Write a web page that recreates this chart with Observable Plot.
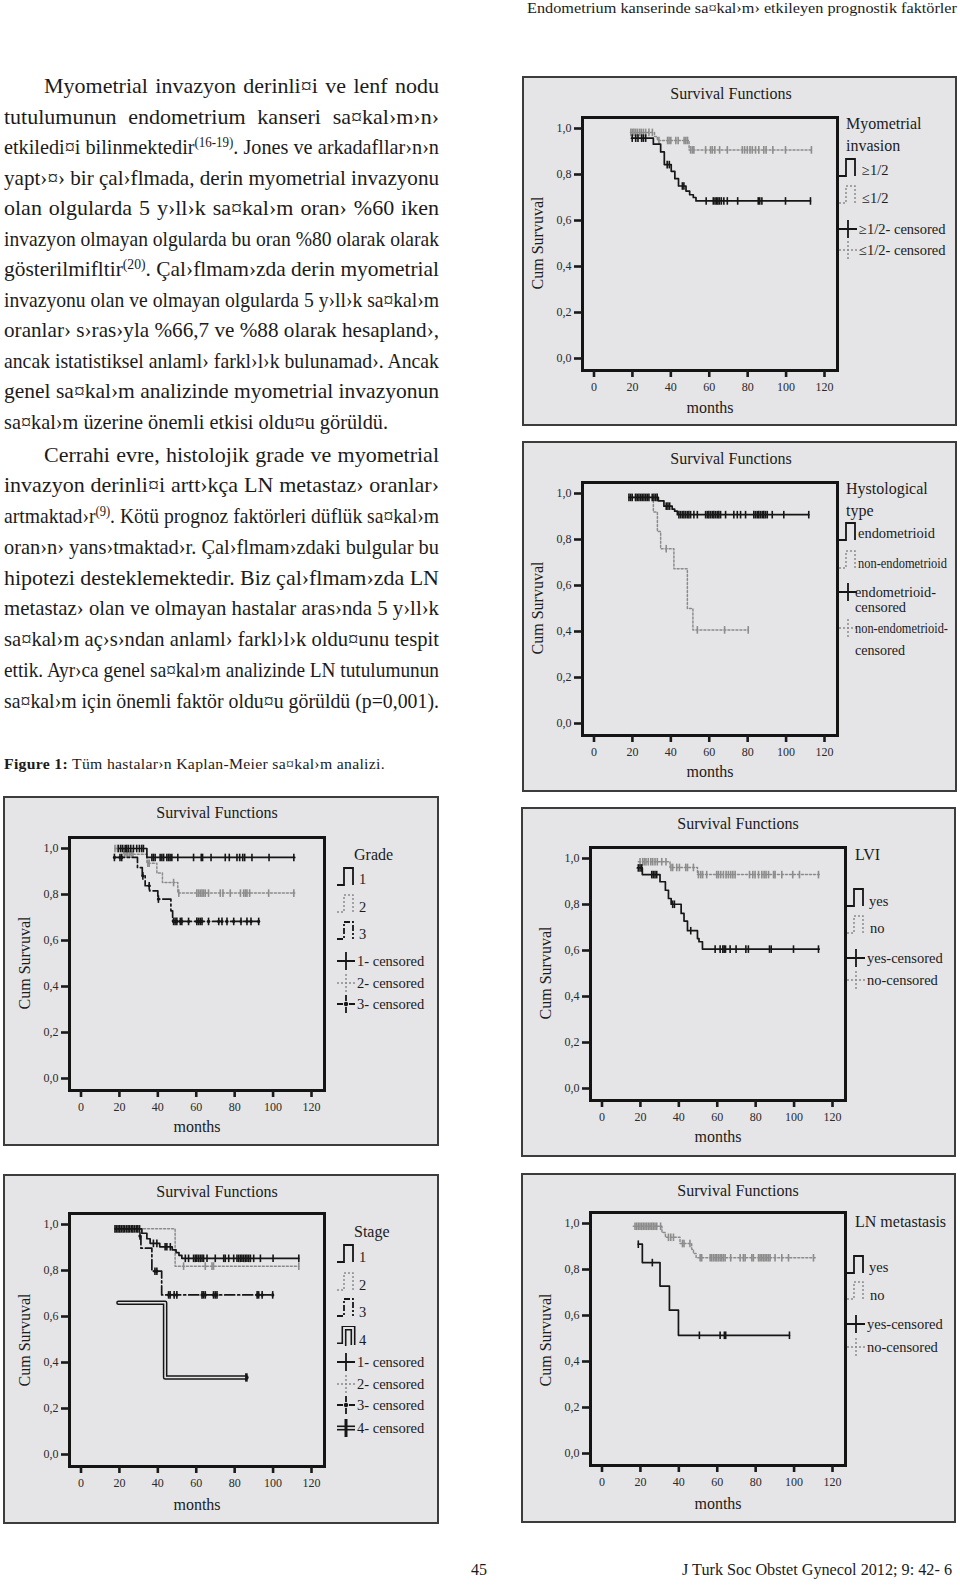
<!DOCTYPE html>
<html><head><meta charset="utf-8">
<script src="https://cdn.jsdelivr.net/npm/d3@7"></script>
<script src="https://cdn.jsdelivr.net/npm/@observablehq/plot@0.6"></script>
<style>
body{margin:0;background:#fff;}
#page{position:relative;width:960px;height:1586px;overflow:hidden;font-family:"Liberation Serif","Times New Roman",serif;color:#1b1b1b;}
.abs{position:absolute;white-space:nowrap;line-height:1;}
.box{position:absolute;box-sizing:border-box;background:#e5e5e7;border:2px solid #3c3c3c;}
sup{font-size:0.64em;vertical-align:baseline;position:relative;top:-0.5em;}
</style></head><body><div id="page"></div>
<script>
// ---------------- data ----------------
const X_TICKS = [0, 20, 40, 60, 80, 100, 120];
const Y_TICKS = [0, 0.2, 0.4, 0.6, 0.8, 1.0];

// Panel 1: Myometrial invasion
const myoDeepT = [19.5, 30.9, 34.7, 36.6, 40.2, 42.1, 44.0, 47.9, 49.8, 51.7, 53.1, 112.7];
const myoDeepS = [0.958, 0.932, 0.898, 0.843, 0.814, 0.782, 0.750, 0.728, 0.712, 0.700, 0.685, 0.685];
const myoDeepC = [19.9, 21.7, 22.9, 24.8, 25.7, 26.9, 38.1, 39.2, 46.0, 46.8, 58.4, 62.1, 63.0, 63.8, 64.5, 65.3, 66.3, 67.6, 69.4, 74.8, 85.5, 86.3, 87.4, 99.7, 112.7];
const myoLowT = [19.0, 31.5, 33.0, 49.5, 113.2];
const myoLowS = [0.983, 0.965, 0.948, 0.907, 0.907];
const myoLowC = [19.2, 20.0, 20.8, 21.7, 22.6, 23.7, 24.6, 25.7, 26.9, 28.6, 30.4, 33.8, 38.3, 39.1, 40.0, 42.6, 43.8, 46.9, 47.8, 48.7, 50.3, 51.2, 52.0, 58.1, 60.7, 61.6, 62.9, 65.4, 69.4, 77.2, 78.4, 79.8, 81.2, 82.4, 84.1, 85.8, 88.4, 89.6, 93.1, 99.7, 113.2];

// Panel 2: Histological type
const endoT = [18.2, 33.5, 36.4, 40.7, 42.0, 43.4, 111.8];
const endoS = [0.983, 0.968, 0.945, 0.932, 0.923, 0.908, 0.908];
const endoC = [18.2, 19.1, 19.9, 21.7, 22.5, 23.4, 24.3, 25.1, 26.0, 26.9, 27.7, 28.6, 30.3, 31.2, 32.1, 32.9, 37.6, 38.5, 39.4, 44.2, 45.1, 46.0, 46.8, 47.7, 48.6, 49.4, 50.3, 52.0, 53.8, 58.1, 59.0, 59.8, 60.7, 61.6, 62.4, 63.3, 64.2, 65.0, 65.9, 68.5, 72.8, 74.6, 76.3, 78.9, 83.2, 84.1, 85.0, 85.8, 86.7, 87.6, 88.4, 89.3, 90.2, 92.8, 98.8, 111.8];
const nonEndoT = [20.0, 30.9, 33.0, 34.7, 41.6, 48.6, 51.5, 80.3];
const nonEndoS = [0.983, 0.920, 0.835, 0.760, 0.673, 0.500, 0.407, 0.407];
const nonEndoC = [21.5, 37.6, 53.8, 68.0, 80.3];

// Panel 3: Grade
const grade1T = [19.5, 34.3, 111.3];
const grade1S = [1.0, 0.961, 0.961];
const grade1C = [19.5, 20.7, 21.7, 23.0, 23.8, 24.7, 25.9, 27.3, 29.0, 30.4, 31.6, 32.5, 36.9, 37.7, 38.6, 41.2, 42.1, 43.0, 44.7, 45.6, 46.4, 47.3, 50.4, 58.6, 62.6, 63.3, 67.7, 75.1, 77.2, 81.2, 82.6, 84.2, 85.2, 89.0, 97.9, 110.8];
const grade2T = [17.7, 22.3, 34.3, 39.5, 42.4, 50.4, 111.3];
const grade2S = [1.0, 0.975, 0.936, 0.893, 0.852, 0.806, 0.806];
const grade2C = [17.7, 19.0, 22.6, 23.5, 24.3, 25.2, 26.1, 27.0, 34.8, 35.5, 48.2, 50.9, 60.3, 61.2, 62.1, 63.0, 63.8, 64.7, 66.4, 72.5, 73.9, 77.7, 83.0, 84.7, 85.6, 86.4, 87.8, 97.7, 110.8];
const grade3T = [17.4, 29.4, 31.9, 33.4, 35.7, 40.0, 46.8, 47.7, 92.5];
const grade3S = [0.961, 0.917, 0.881, 0.838, 0.816, 0.780, 0.729, 0.683, 0.683];
const grade3C = [17.4, 20.3, 21.2, 32.2, 35.5, 40.3, 48.2, 49.0, 49.9, 51.7, 52.5, 56.0, 60.3, 61.2, 62.1, 63.0, 66.4, 71.7, 73.4, 76.0, 79.5, 83.3, 86.4, 88.5, 92.5];

// Panel 4: LVI
const lviYesT = [18.4, 21.0, 30.2, 33.0, 34.6, 36.0, 41.2, 42.7, 44.5, 49.7, 50.5, 52.3, 113.1];
const lviYesS = [0.959, 0.930, 0.899, 0.862, 0.826, 0.801, 0.761, 0.728, 0.686, 0.652, 0.638, 0.606, 0.606];
const lviYesC = [18.9, 19.8, 20.7, 25.9, 26.7, 27.6, 28.5, 36.8, 37.7, 46.2, 58.9, 61.5, 62.9, 63.6, 64.3, 66.7, 69.8, 74.9, 76.2, 87.2, 88.1, 99.7, 112.7];
const lviNoT = [18.9, 35.4, 49.7, 113.1];
const lviNoS = [0.986, 0.961, 0.930, 0.930];
const lviNoC = [19.8, 21.2, 22.1, 22.9, 24.1, 25.4, 26.4, 27.6, 28.8, 31.1, 33.3, 35.9, 36.8, 38.9, 40.3, 43.6, 44.5, 47.6, 50.2, 51.4, 52.4, 54.5, 59.7, 60.6, 61.8, 63.2, 64.6, 65.8, 67.0, 68.1, 69.3, 76.8, 78.5, 79.7, 81.5, 83.2, 84.4, 85.4, 86.7, 89.3, 90.1, 93.6, 99.3, 102.8, 112.7];

// Panel 5: Stage
const stage1T = [17.7, 31.7, 34.3, 36.0, 41.0, 47.5, 49.5, 51.0, 52.5, 113.4];
const stage1S = [0.981, 0.962, 0.938, 0.918, 0.903, 0.890, 0.878, 0.866, 0.853, 0.853];
const stage1C = [17.7, 18.5, 19.3, 20.2, 21.0, 21.9, 22.7, 23.6, 24.5, 25.3, 26.2, 27.0, 27.9, 28.8, 29.6, 30.5, 37.7, 39.5, 43.8, 44.7, 46.5, 54.3, 56.0, 58.6, 59.5, 60.3, 61.2, 62.1, 63.0, 63.8, 65.6, 69.9, 74.3, 75.1, 76.9, 79.5, 81.2, 82.1, 83.0, 83.8, 84.7, 85.6, 86.4, 87.3, 88.2, 89.9, 93.4, 100.0, 113.4];
const stage2T = [18.0, 49.0, 113.4];
const stage2S = [0.981, 0.819, 0.819];
const stage2C = [53.4, 64.7, 68.2, 69.0, 113.4];
const stage3T = [30.5, 31.2, 36.9, 42.0, 99.8];
const stage3S = [0.950, 0.897, 0.797, 0.694, 0.694];
const stage3C = [30.7, 38.5, 39.5, 45.6, 46.4, 48.5, 49.9, 63.0, 63.8, 64.7, 69.0, 69.9, 70.8, 91.7, 92.5, 94.3, 99.8];
const stage4T = [19.5, 43.8, 86.1];
const stage4S = [0.660, 0.335, 0.335];
const stage4C = [86.1];

// Panel 6: LN metastasis
const lnYesT = [18.9, 21.0, 30.2, 35.1, 39.8, 97.6];
const lnYesS = [0.910, 0.830, 0.728, 0.623, 0.514, 0.514];
const lnYesC = [18.9, 26.2, 50.7, 61.5, 63.7, 64.4, 97.6];
const lnNoT = [16.3, 31.2, 33.0, 40.6, 46.7, 47.6, 49.0, 111.0];
const lnNoS = [0.988, 0.961, 0.940, 0.913, 0.888, 0.870, 0.851, 0.851];
const lnNoC = [17.2, 18.1, 19.0, 19.8, 20.7, 21.6, 22.4, 23.3, 24.2, 25.0, 25.9, 26.7, 27.6, 28.5, 30.5, 34.6, 35.8, 37.2, 41.9, 42.7, 45.8, 51.1, 51.9, 56.3, 57.1, 58.0, 58.9, 59.7, 60.6, 61.5, 62.3, 63.2, 64.1, 67.0, 71.9, 73.6, 74.5, 78.0, 78.8, 81.5, 82.3, 83.2, 84.1, 84.9, 85.8, 86.7, 87.5, 90.1, 93.6, 97.1, 110.1];

// ---------------- text ----------------
const headerText = "Endometrium kanserinde sa¤kal›m› etkileyen prognostik faktörler";
const para1 = [
 "Myometrial invazyon derinli¤i ve lenf nodu",
 "tutulumunun endometrium kanseri sa¤kal›m›n›",
 "etkiledi¤i bilinmektedir<sup>(16-19)</sup>. Jones ve arkadafllar›n›n",
 "yapt›¤› bir çal›flmada, derin myometrial invazyonu",
 "olan olgularda 5 y›ll›k sa¤kal›m oran› %60 iken",
 "invazyon olmayan olgularda bu oran %80 olarak olarak",
 "gösterilmifltir<sup>(20)</sup>. Çal›flmam›zda derin myometrial",
 "invazyonu olan ve olmayan olgularda 5 y›ll›k sa¤kal›m",
 "oranlar› s›ras›yla %66,7 ve %88 olarak hesapland›,",
 "ancak istatistiksel anlaml› farkl›l›k bulunamad›. Ancak",
 "genel sa¤kal›m analizinde myometrial invazyonun",
 "sa¤kal›m üzerine önemli etkisi oldu¤u görüldü."
];
const para2 = [
 "Cerrahi evre, histolojik grade ve myometrial",
 "invazyon derinli¤i artt›kça LN metastaz› oranlar›",
 "artmaktad›r<sup>(9)</sup>. Kötü prognoz faktörleri düflük sa¤kal›m",
 "oran›n› yans›tmaktad›r. Çal›flmam›zdaki bulgular bu",
 "hipotezi desteklemektedir. Biz çal›flmam›zda LN",
 "metastaz› olan ve olmayan hastalar aras›nda 5 y›ll›k",
 "sa¤kal›m aç›s›ndan anlaml› farkl›l›k oldu¤unu tespit",
 "ettik. Ayr›ca genel sa¤kal›m analizinde LN tutulumunun",
 "sa¤kal›m için önemli faktör oldu¤u görüldü (p=0,001)."
];
const captionHTML = "<b>Figure 1:</b> Tüm hastalar›n Kaplan-Meier sa¤kal›m analizi.";

// ---------------- helpers ----------------
const page = document.getElementById("page");
const BG = "#e5e5e7";
const INK = "#161616";
const GREY = "#8c8c8c";

function placeText(html, o) {
  const el = document.createElement("div");
  el.className = "abs";
  el.innerHTML = html;
  el.style.fontSize = o.fs + "px";
  if (o.letter) el.style.letterSpacing = o.letter + "px";
  el.style.left = o.left + "px";
  el.style.top = (o.baseline - 0.8375 * o.fs) + "px";
  page.appendChild(el);
  if (o.width) {
    const w = el.getBoundingClientRect().width;
    let s = o.width / w;
    if (o.justify) {
      s = Math.min(o.maxScale || 1, o.width / w);
      const n = (el.textContent.match(/ /g) || []).length;
      const extra = o.width / s - w;
      if (n > 0 && extra > 0.01) el.style.wordSpacing = (extra / n) + "px";
      else s = o.width / w;
    }
    el.style.transformOrigin = "0 0";
    el.style.transform = `scaleX(${s})`;
  }
  return el;
}
function centerText(text, cx, cy, fs, rotate) {
  const el = document.createElement("div");
  el.className = "abs";
  el.textContent = text;
  el.style.fontSize = fs + "px";
  el.style.left = cx + "px";
  el.style.top = cy + "px";
  el.style.transform = "translate(-50%,-50%)" + (rotate ? " rotate(-90deg)" : "");
  page.appendChild(el);
  return el;
}
function leftText(text, x, cy, fs, width) {
  const el = document.createElement("div");
  el.className = "abs";
  el.textContent = text;
  el.style.fontSize = fs + "px";
  el.style.left = x + "px";
  el.style.top = (cy - fs / 2) + "px";
  page.appendChild(el);
  if (width) {
    const w = el.getBoundingClientRect().width;
    el.style.transformOrigin = "0 50%";
    el.style.transform = `scaleX(${width / w})`;
  }
  return el;
}
const LINE_ATTR = {
  solid: `stroke="${INK}" stroke-width="1.8"`,
  dotted: `stroke="${GREY}" stroke-width="1.5" stroke-dasharray="2,2"`,
  dashdot: `stroke="${INK}" stroke-width="1.8" stroke-dasharray="6,2,2,2"`
};
function icon(style, kind, x, cy) {
  let body = "";
  if (kind === "step") {
    const d = "M1,19H8V2H17V19";
    if (style === "double") body = `<path d="${d}" fill="none" stroke="${INK}" stroke-width="5"/><path d="${d}" fill="none" stroke="${BG}" stroke-width="1.8"/>`;
    else body = `<path d="${d}" fill="none" ${LINE_ATTR[style]}/>`;
  } else {
    if (style === "double") body = `<path d="M0,10H18" stroke="${INK}" stroke-width="5"/><path d="M0,10H18" stroke="${BG}" stroke-width="1.8"/><path d="M9,1V19" stroke="${INK}" stroke-width="3"/>`;
    else body = `<path d="M0,10H18M9,1V19" fill="none" ${LINE_ATTR[style]}/>` + (style === "dashdot" ? `<circle cx="9" cy="10" r="2.2" fill="${INK}"/>` : "");
  }
  const el = document.createElement("div");
  el.className = "abs";
  el.style.left = x + "px";
  el.style.top = (cy - 10) + "px";
  el.innerHTML = `<svg width="20" height="20" viewBox="0 0 20 20">${body}</svg>`;
  page.appendChild(el);
}

function survAt(T, S, t) {
  let s = S[0];
  for (let i = 0; i < T.length; i++) if (T[i] <= t) s = S[i];
  return s;
}
const vbar = {draw(ctx, size) { const r = Math.sqrt(size / Math.PI); ctx.moveTo(0, -r); ctx.lineTo(0, r); }};

function seriesMarks(T, S, C, style) {
  const pts = T.map((t, i) => ({t, s: S[i]}));
  const cens = C.map(t => ({t, s: survAt(T, S, t)}));
  const m = [];
  if (style === "solid") {
    m.push(Plot.line(pts, {x: "t", y: "s", curve: "step-after", stroke: INK, strokeWidth: 1.7}));
    m.push(Plot.dot(cens, {x: "t", y: "s", symbol: vbar, r: 3.8, fill: "none", stroke: INK, strokeWidth: 1.6}));
  } else if (style === "dotted") {
    m.push(Plot.line(pts, {x: "t", y: "s", curve: "step-after", stroke: GREY, strokeWidth: 1.5, strokeDasharray: "2,2"}));
    m.push(Plot.dot(cens, {x: "t", y: "s", symbol: vbar, r: 3.8, fill: "none", stroke: GREY, strokeWidth: 1.6}));
  } else if (style === "dashdot") {
    m.push(Plot.line(pts, {x: "t", y: "s", curve: "step-after", stroke: INK, strokeWidth: 1.7, strokeDasharray: "10,3,2,3"}));
    m.push(Plot.dot(cens, {x: "t", y: "s", symbol: vbar, r: 3.8, fill: "none", stroke: INK, strokeWidth: 1.6}));
    m.push(Plot.dot(cens, {x: "t", y: "s", r: 1.6, fill: INK}));
  } else if (style === "double") {
    m.push(Plot.line(pts, {x: "t", y: "s", curve: "step-after", stroke: INK, strokeWidth: 4.6}));
    m.push(Plot.line(pts, {x: "t", y: "s", curve: "step-after", stroke: BG, strokeWidth: 1.6}));
    m.push(Plot.dot(cens, {x: "t", y: "s", symbol: vbar, r: 4.2, fill: "none", stroke: INK, strokeWidth: 2.6}));
  }
  return m;
}

function panel(p) {
  const [bl, bt, br, bb] = p.box;
  const [fl, ft] = p.frame;
  const box = document.createElement("div");
  box.className = "box";
  Object.assign(box.style, {left: bl + "px", top: bt + "px", width: (br - bl) + "px", height: (bb - bt) + "px"});
  page.appendChild(box);
  const W = br - bl, H = bb - bt;
  const ml = fl - bl, mt = ft - bt;
  const mr = W - (ml + 255), mb = H - (mt + 253);
  const marks = [];
  p.series.forEach(s => marks.push(...seriesMarks(s.T, s.S, s.C, s.style)));
  const chart = Plot.plot({
    width: W, height: H,
    marginLeft: ml, marginTop: mt, marginRight: mr, marginBottom: mb,
    x: {domain: [0, 120], range: [ml + 11.5, ml + 242], label: null},
    y: {domain: [0, 1], range: [mt + 241, mt + 11], label: null},
    style: {background: "transparent", fontFamily: "'Liberation Serif', serif", fontSize: "12px", color: "#2a2a2a", overflow: "visible"},
    marks: [
      ...marks,
      Plot.frame({stroke: "#141414", strokeWidth: 3}),
      Plot.axisX({ticks: X_TICKS, tickFormat: d => String(d), tickSize: 7, tickPadding: 5, stroke: "#1a1a1a", strokeWidth: 2.6, label: null}),
      Plot.axisY({ticks: Y_TICKS, tickFormat: d => d.toFixed(1).replace(".", ","), tickSize: 8, tickPadding: 3, stroke: "#1a1a1a", strokeWidth: 2.6, label: null})
    ]
  });
  chart.style.position = "absolute";
  chart.style.left = bl + "px";
  chart.style.top = bt + "px";
  page.appendChild(chart);
  centerText("Survival Functions", p.title[0], p.title[1], 16);
  centerText("Cum Survuval", p.ylab[0], p.ylab[1], 16, true);
  centerText("months", p.xlab[0], p.xlab[1], 16);
  p.legendTitle.forEach(([t, x, y]) => leftText(t, x, y, 16));
  p.legend.forEach(it => {
    icon(it.style, it.kind, it.ix, it.iy);
    it.texts.forEach(([t, x, y, w]) => leftText(t, x, y, 14.5, w));
  });
}

// ---------------- page text ----------------
placeText(headerText, {left: 527, baseline: 14, fs: 15, width: 430});

para1.forEach((l, i) => {
  const first = i === 0, last = i === para1.length - 1;
  const left = first ? 44 : 4;
  placeText(l, {left, baseline: 93.7 + 30.5 * i, fs: 22, width: last ? 384 : 439 - left, justify: !last, maxScale: 1});
});
para2.forEach((l, i) => {
  const left = i === 0 ? 44 : 4;
  placeText(l, {left, baseline: 462 + 30.75 * i, fs: 22, width: 439 - left, justify: true, maxScale: 1});
});
placeText(captionHTML, {left: 4, baseline: 769, fs: 15.5, width: 381, letter: 0.3});
placeText("45", {left: 471, baseline: 1575, fs: 16});
placeText("J Turk Soc Obstet Gynecol 2012; 9: 42- 6", {left: 682, baseline: 1575, fs: 16, width: 270});

// ---------------- panels ----------------
const stepItem = (style, ix, iy, text, tx, ty, w) => ({kind: "step", style, ix, iy, texts: [[text, tx, ty, w]]});
const censItem = (style, ix, iy, texts) => ({kind: "cens", style, ix, iy, texts});

panel({
  box: [522, 76, 957, 426], frame: [582, 117],
  series: [{T: myoLowT, S: myoLowS, C: myoLowC, style: "dotted"}, {T: myoDeepT, S: myoDeepS, C: myoDeepC, style: "solid"}],
  title: [731, 94], ylab: [538, 243], xlab: [710, 408],
  legendTitle: [["Myometrial", 846, 124], ["invasion", 846, 146]],
  legend: [
    stepItem("solid", 838, 167, "≥1/2", 862, 170),
    stepItem("dotted", 838, 194, "≤1/2", 862, 198),
    censItem("solid", 839, 229, [["≥1/2- censored", 859, 229]]),
    censItem("dotted", 839, 250, [["≤1/2- censored", 859, 250]])
  ]
});
panel({
  box: [522, 441, 957, 792], frame: [582, 482],
  series: [{T: nonEndoT, S: nonEndoS, C: nonEndoC, style: "dotted"}, {T: endoT, S: endoS, C: endoC, style: "solid"}],
  title: [731, 459], ylab: [538, 608], xlab: [710, 772],
  legendTitle: [["Hystological", 846, 489], ["type", 846, 511]],
  legend: [
    stepItem("solid", 838, 531, "endometrioid", 858, 533, 77),
    stepItem("dotted", 838, 559, "non-endometrioid", 858, 563, 89),
    censItem("solid", 839, 592, [["endometrioid-", 855, 592, 81], ["censored", 855, 607, 51]]),
    censItem("dotted", 839, 628, [["non-endometrioid-", 855, 628, 93], ["censored", 855, 650, 50]])
  ]
});
panel({
  box: [3, 796, 439, 1146], frame: [69, 837],
  series: [{T: grade2T, S: grade2S, C: grade2C, style: "dotted"}, {T: grade3T, S: grade3S, C: grade3C, style: "dashdot"}, {T: grade1T, S: grade1S, C: grade1C, style: "solid"}],
  title: [217, 813], ylab: [25, 963], xlab: [197, 1127],
  legendTitle: [["Grade", 354, 855]],
  legend: [
    stepItem("solid", 336, 876, "1", 359, 879),
    stepItem("dotted", 336, 903, "2", 359, 907),
    stepItem("dashdot", 336, 930, "3", 359, 934),
    censItem("solid", 337, 961, [["1- censored", 357, 961]]),
    censItem("dotted", 337, 983, [["2- censored", 357, 983]]),
    censItem("dashdot", 337, 1004, [["3- censored", 357, 1004]])
  ]
});
panel({
  box: [521, 807, 956, 1157], frame: [590, 847],
  series: [{T: lviNoT, S: lviNoS, C: lviNoC, style: "dotted"}, {T: lviYesT, S: lviYesS, C: lviYesC, style: "solid"}],
  title: [738, 824], ylab: [546, 973], xlab: [718, 1137],
  legendTitle: [["LVI", 855, 855]],
  legend: [
    stepItem("solid", 846, 897, "yes", 869, 901),
    stepItem("dotted", 846, 924, "no", 870, 928),
    censItem("solid", 847, 958, [["yes-censored", 867, 958]]),
    censItem("dotted", 847, 980, [["no-censored", 867, 980]])
  ]
});
panel({
  box: [3, 1174, 439, 1524], frame: [69, 1213],
  series: [{T: stage2T, S: stage2S, C: stage2C, style: "dotted"}, {T: stage4T, S: stage4S, C: stage4C, style: "double"}, {T: stage3T, S: stage3S, C: stage3C, style: "dashdot"}, {T: stage1T, S: stage1S, C: stage1C, style: "solid"}],
  title: [217, 1192], ylab: [25, 1340], xlab: [197, 1505],
  legendTitle: [["Stage", 354, 1232]],
  legend: [
    stepItem("solid", 336, 1253, "1", 359, 1257),
    stepItem("dotted", 336, 1281, "2", 359, 1285),
    stepItem("dashdot", 336, 1307, "3", 359, 1312),
    stepItem("double", 336, 1336, "4", 359, 1340),
    censItem("solid", 337, 1362, [["1- censored", 357, 1362]]),
    censItem("dotted", 337, 1384, [["2- censored", 357, 1384]]),
    censItem("dashdot", 337, 1405, [["3- censored", 357, 1405]]),
    censItem("double", 337, 1428, [["4- censored", 357, 1428]])
  ]
});
panel({
  box: [521, 1173, 956, 1523], frame: [590, 1212],
  series: [{T: lnNoT, S: lnNoS, C: lnNoC, style: "dotted"}, {T: lnYesT, S: lnYesS, C: lnYesC, style: "solid"}],
  title: [738, 1191], ylab: [546, 1340], xlab: [718, 1504],
  legendTitle: [["LN metastasis", 855, 1222]],
  legend: [
    stepItem("solid", 846, 1264, "yes", 869, 1267),
    stepItem("dotted", 846, 1290, "no", 870, 1295),
    censItem("solid", 847, 1324, [["yes-censored", 867, 1324]]),
    censItem("dotted", 847, 1347, [["no-censored", 867, 1347]])
  ]
});
</script>
</body></html>
